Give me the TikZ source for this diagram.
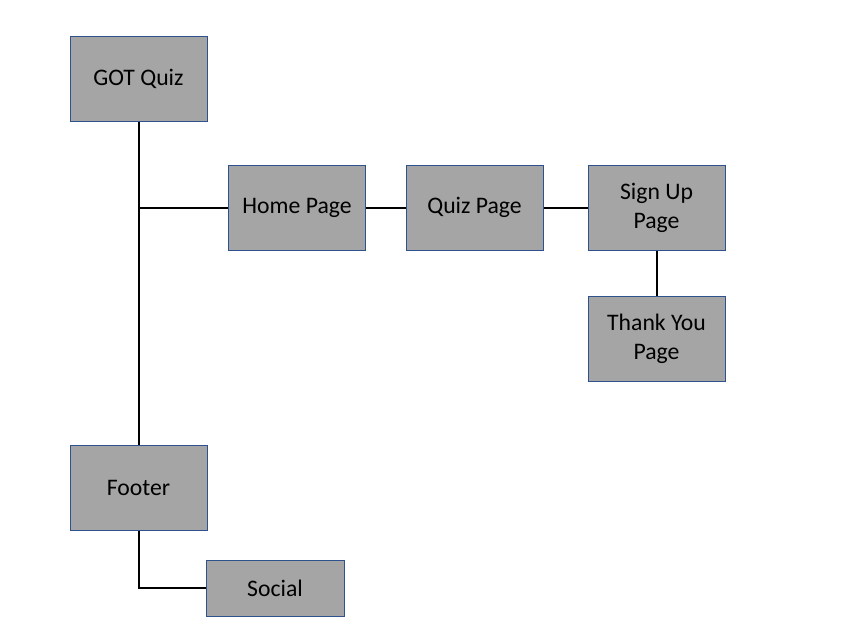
\documentclass[tikz,border=0pt]{standalone}
\usepackage{fontspec}
\setmainfont{Carlito}
\usetikzlibrary{calc}
\definecolor{boxgray}{HTML}{A5A5A5}
\definecolor{boxblue}{HTML}{2F528F}

\begin{document}
\begin{tikzpicture}[x=1pt,y=-1pt,
  page/.style={draw=boxblue,line width=1pt,fill=boxgray,minimum width=137pt,minimum height=85pt,
    align=center,inner sep=0pt,font=\fontsize{23.7}{29}\selectfont},
  link/.style={black,line width=2pt}]
\useasboundingbox (0,0) rectangle (842,637);
% les pages
\node[page] (got) at (138.5,79) {GOT Quiz};
\node[page] (home) at (297,207.5) {Home Page};
\node[page] (quiz) at (474.5,207.5) {Quiz Page};
\node[page] (signup) at (656.5,207.5) {Sign Up\\Page};
\node[page] (thanks) at (656.5,338.5) {Thank You\\Page};
\node[page] (footer) at (138.5,488) {Footer};
\node[page,minimum width=138pt,minimum height=56pt] (social) at (275,588) {Social};
% liens
\draw[link] (got.south) -- (footer.north);
\draw[link] (got.south |- home.west) -- (home.west);
\draw[link] (home) -- (quiz);
\draw[link] (quiz) -- (signup);
\draw[link] (signup) -- (thanks);
\draw[link] (footer.south) |- (social.west);
\end{tikzpicture}
\end{document}
